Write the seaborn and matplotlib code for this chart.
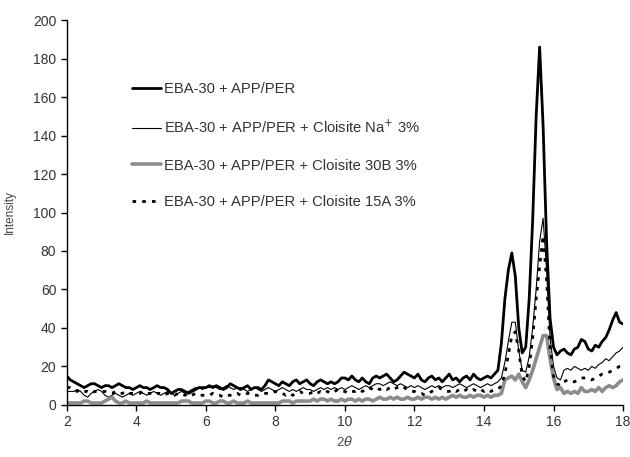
import numpy as np
import pandas as pd
import seaborn as sns
import matplotlib
matplotlib.use("Agg")
import matplotlib.pyplot as plt

# 2theta grid, 0.1 step from 2 to 18
two_theta = np.round(np.arange(2.0, 18.05, 0.1), 1)

# EBA-30 + APP/PER
eba_app = [
    15, 13, 12, 11, 10, 9, 10, 11, 11, 10,
    9, 10, 10, 9, 10, 11, 10, 9, 9, 8,
    9, 10, 9, 9, 8, 9, 10, 9, 9, 8,
    6, 7, 8, 8, 7, 6, 7, 8, 9, 9,
    9, 10, 9, 10, 9, 8, 9, 11, 10, 9,
    8, 9, 10, 8, 9, 9, 8, 10, 13, 12,
    11, 10, 12, 11, 10, 12, 13, 11, 12, 13,
    11, 10, 12, 13, 12, 11, 12, 11, 12, 14,
    14, 13, 15, 13, 12, 14, 12, 11, 14, 15,
    14, 15, 16, 14, 12, 13, 15, 17, 16, 15,
    14, 16, 13, 12, 14, 15, 13, 14, 12, 14,
    16, 13, 14, 12, 14, 15, 13, 16, 14, 13,
    14, 15, 14, 16, 18, 32, 55, 70, 79, 67,
    40, 27, 30, 55, 96, 150, 186, 145, 85, 45,
    30, 26, 28, 29, 27, 26, 29, 30, 34, 33,
    29, 28, 31, 30, 33, 35, 39, 44, 48, 43,
    42,
]

# EBA-30 + APP/PER + Cloisite Na+ 3%
eba_na = [
    7, 7, 7, 8, 7, 5, 4, 6, 7, 8,
    7, 5, 4, 5, 6, 5, 4, 5, 6, 5,
    6, 7, 6, 5, 6, 7, 6, 5, 6, 7,
    6, 5, 6, 7, 6, 7, 8, 9, 9, 8,
    9, 9, 10, 9, 8, 9, 10, 9, 8, 9,
    9, 8, 7, 8, 9, 8, 7, 8, 9, 8,
    7, 8, 9, 8, 7, 8, 7, 8, 9, 8,
    8, 7, 8, 9, 8, 9, 8, 9, 8, 9,
    8, 9, 10, 9, 8, 9, 10, 9, 10, 11,
    11, 10, 11, 12, 11, 10, 11, 10, 9, 10,
    9, 10, 9, 8, 9, 10, 9, 10, 9, 10,
    10, 9, 10, 11, 10, 9, 10, 11, 10, 9,
    10, 11, 10, 11, 12, 14, 22, 33, 43, 43,
    28, 18, 17, 25, 40, 60, 85, 97, 70, 35,
    20, 14, 13, 18, 19, 18, 20, 19, 18, 19,
    18, 20, 19, 21, 22, 24, 23, 25, 27, 28,
    30,
]

# EBA-30 + APP/PER + Cloisite 30B 3%
eba_30b = [
    1, 1, 1, 1, 1, 2, 2, 1, 1, 1,
    1, 2, 3, 4, 2, 1, 1, 2, 1, 1,
    1, 1, 1, 2, 1, 1, 1, 1, 1, 1,
    1, 1, 1, 2, 2, 2, 1, 1, 1, 1,
    2, 2, 1, 1, 2, 2, 1, 1, 2, 1,
    1, 1, 2, 1, 1, 1, 1, 1, 1, 1,
    1, 1, 2, 2, 2, 1, 2, 2, 2, 2,
    2, 3, 2, 3, 3, 2, 3, 2, 2, 3,
    2, 3, 3, 2, 3, 2, 3, 3, 2, 3,
    4, 3, 3, 4, 3, 4, 3, 3, 4, 3,
    3, 4, 3, 4, 4, 3, 4, 3, 4, 3,
    4, 5, 4, 5, 4, 4, 5, 4, 5, 5,
    4, 5, 4, 5, 5, 6, 13, 14, 15, 13,
    16, 12, 9, 13, 18, 24, 30, 36, 36, 24,
    14, 8, 9, 6, 7, 6, 7, 6, 9, 7,
    7, 8, 7, 9, 7, 9, 10, 9, 10, 12,
    13,
]

# EBA-30 + APP/PER + Cloisite 15A 3%
eba_15a = [
    9, 9, 8, 7, 8, 7, 7, 6, 7, 7,
    7, 7, 6, 6, 7, 6, 6, 7, 6, 6,
    6, 6, 7, 6, 6, 5, 6, 6, 5, 6,
    6, 5, 6, 6, 5, 6, 5, 6, 5, 5,
    5, 5, 6, 5, 5, 4, 5, 5, 5, 6,
    5, 5, 6, 6, 5, 5, 6, 6, 6, 6,
    7, 6, 6, 5, 6, 5, 6, 7, 6, 6,
    6, 7, 6, 7, 6, 7, 6, 7, 8, 7,
    7, 6, 7, 7, 8, 7, 8, 9, 8, 9,
    8, 9, 8, 9, 8, 9, 10, 9, 8, 7,
    7, 6, 6, 5, 6, 7, 8, 9, 8, 7,
    7, 8, 7, 8, 7, 8, 7, 8, 7, 8,
    7, 8, 7, 8, 8, 10, 16, 26, 36, 38,
    28, 15, 12, 20, 35, 55, 72, 88, 65, 30,
    15, 11, 10, 12, 13, 12, 12, 13, 14, 14,
    14, 13, 14, 15, 16, 16, 17, 18, 19, 20,
    20,
]

labels = [
    "EBA-30 + APP/PER",
    "EBA-30 + APP/PER + Cloisite Na$^{+}$ 3%",
    "EBA-30 + APP/PER + Cloisite 30B 3%",
    "EBA-30 + APP/PER + Cloisite 15A 3%",
]

sns.set_style("ticks")
plt.rcParams["font.family"] = ["Liberation Sans", "DejaVu Sans"]
plt.rcParams["mathtext.fontset"] = "dejavusans"

fig = plt.figure(figsize=(6.3, 4.57), dpi=100)
ax = fig.add_axes([0.106, 0.114, 0.883, 0.842])

styles = [
    dict(color="black", linewidth=2.0, linestyle="-"),
    dict(color="black", linewidth=0.8, linestyle="-"),
    dict(color="#8a8c8f", linewidth=2.6, linestyle="-"),
    dict(color="black", linewidth=2.0, linestyle=(0, (1.3, 2.2))),
]
series = [eba_app, eba_na, eba_30b, eba_15a]

for y, lab, st in zip(series, labels, styles):
    sns.lineplot(x=two_theta, y=y, ax=ax, label=lab, **st)

ax.set_xlim(2, 18)
ax.set_ylim(0, 200)
ax.set_xticks(np.arange(2, 19, 2))
ax.set_yticks(np.arange(0, 201, 20))
ax.tick_params(axis="both", labelsize=10, colors="#333333", length=4, width=1, direction="out")
ax.tick_params(axis="both", color="black")
for side in ["left", "bottom"]:
    ax.spines[side].set_color("black")
    ax.spines[side].set_linewidth(1)
sns.despine(ax=ax)

ax.set_xlabel("2$\\theta$", fontsize=9.5, color="#444444")
ax.set_ylabel("Intensity", fontsize=8.5, color="#444444", labelpad=12)

leg = ax.legend(loc="upper left", bbox_to_anchor=(0.117, 0.84), frameon=False,
                fontsize=10.6, labelspacing=1.55, handlelength=2.0, handletextpad=0.2,
                borderaxespad=0, borderpad=0)
for t in leg.get_texts():
    t.set_color("#333333")

fig.savefig("out.png", dpi=100)
